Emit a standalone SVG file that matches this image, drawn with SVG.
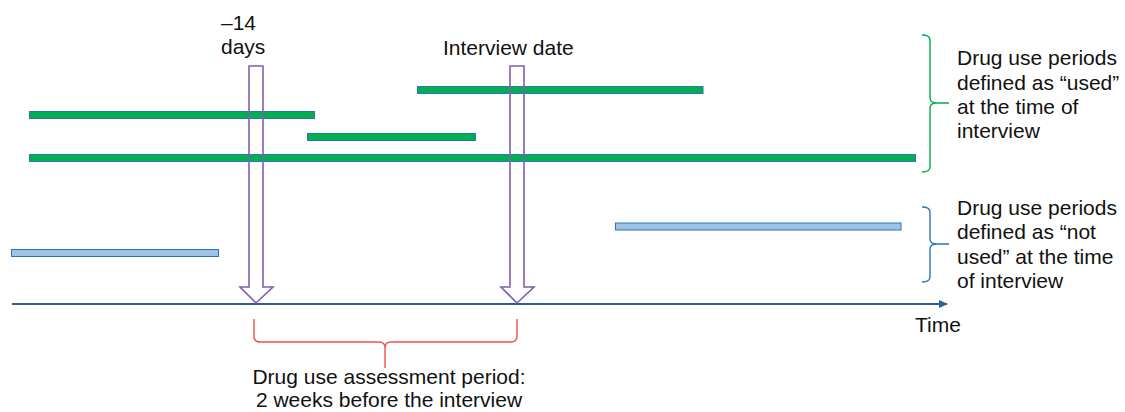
<svg xmlns="http://www.w3.org/2000/svg" width="1125" height="412" viewBox="0 0 1125 412">
<defs>
<style>
text{font-family:"Liberation Sans",Arial,sans-serif;font-size:21px;fill:#111111}
.used{fill:#00B050;stroke:#2E75B6;stroke-width:1}
.notused{fill:#9DC3E6;stroke:#2E75B6;stroke-width:1}
.marker{fill:none;stroke:#7F5FAF;stroke-width:1.6;stroke-linejoin:miter}
.brace{fill:none;stroke-width:1.4}
</style>
<marker id="axisHead" markerWidth="10" markerHeight="10" refX="8" refY="4" orient="auto" markerUnits="userSpaceOnUse">
<path d="M0,0 L9,4 L0,8 Z" fill="#2C5F94"/>
</marker>
</defs>
<rect width="1125" height="412" fill="#ffffff"/>

<g id="periods-used">
<rect class="used" x="29.5" y="111.5" width="285" height="7"/>
<rect class="used" x="307.5" y="133.5" width="168" height="7"/>
<rect class="used" x="29.5" y="154.5" width="886" height="7"/>
<rect class="used" x="417.5" y="86.5" width="285.5" height="7"/>
</g>

<g id="periods-notused">
<rect class="notused" x="11.5" y="249.5" width="207" height="7"/>
<rect class="notused" x="615.5" y="223" width="285.5" height="7"/>
</g>

<g id="connectors">
<line x1="12" y1="304" x2="947" y2="304" stroke="#2C5F94" stroke-width="2" marker-end="url(#axisHead)"/>
</g>

<g id="arrow-minus14">
<path class="marker" d="M249,66 H263 V287 H273 L256,303 L240,287 H249 Z"/>
<text x="221" y="30">–14</text>
<text x="221" y="54">days</text>
</g>

<g id="arrow-interview">
<path class="marker" d="M510,66 H524 V287 H534 L517,303 L501,287 H510 Z"/>
<text x="443" y="55">Interview date</text>
</g>

<g id="time-label">
<text x="915" y="332">Time</text>
</g>

<g id="brace-used">
<path class="brace" stroke="#00B050" d="M922,35 Q930,35 930,40 V98 Q930,103 937,103 H949 M937,103 Q930,103 930,108 V167 Q930,172 922,172"/>
<text x="957" y="65">Drug use periods</text>
<text x="957" y="89.5">defined as “used”</text>
<text x="957" y="113.5">at the time of</text>
<text x="957" y="138">interview</text>
</g>

<g id="brace-notused">
<path class="brace" stroke="#2E75B6" d="M922,207 Q930,207 930,212 V239 Q930,244 937,244 H949 M937,244 Q930,244 930,249 V277 Q930,282 922,282"/>
<text x="957" y="215">Drug use periods</text>
<text x="957" y="239">defined as “not</text>
<text x="957" y="263.5">used” at the time</text>
<text x="957" y="288">of interview</text>
</g>

<g id="brace-assessment">
<path class="brace" stroke="#F05050" d="M254,319 V336 Q254,342 260,342 H379 Q385,342 385,348 V368 M517,319 V336 Q517,342 511,342 H391 Q385,342 385,348"/>
<text x="389" y="384" text-anchor="middle">Drug use assessment period:</text>
<text x="389" y="407" text-anchor="middle">2 weeks before the interview</text>
</g>
</svg>
